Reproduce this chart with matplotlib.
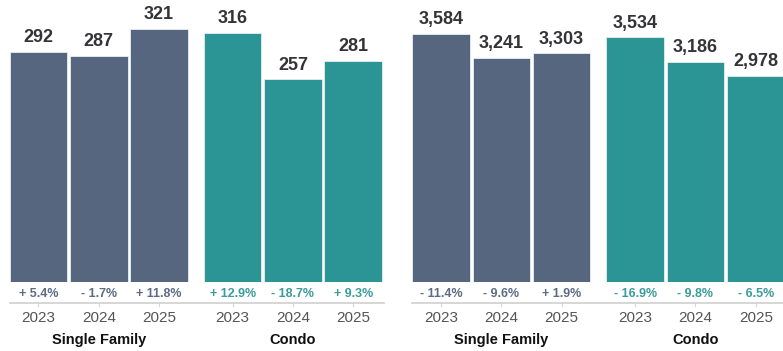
import matplotlib
matplotlib.use('Agg')
import matplotlib.pyplot as plt
from matplotlib import transforms

plt.rcParams['font.family'] = ['Liberation Sans', 'DejaVu Sans']

years = ['2023', '2024', '2025']
groups = ['Single Family', 'Condo']

# left panel
left_sf = [292, 287, 321]
left_condo = [316, 257, 281]
left_sf_chg = ['+ 5.4%', '- 1.7%', '+ 11.8%']
left_condo_chg = ['+ 12.9%', '- 18.7%', '+ 9.3%']

# right panel
right_sf = [3584, 3241, 3303]
right_condo = [3534, 3186, 2978]
right_sf_chg = ['- 11.4%', '- 9.6%', '+ 1.9%']
right_condo_chg = ['- 16.9%', '- 9.8%', '- 6.5%']

slate = '#56667f'
teal = '#2b9595'
slate_txt = '#5d6c84'
teal_txt = '#3a9c9a'

W, H = 783, 351
fig = plt.figure(figsize=(W / 100, H / 100), dpi=100)
fig.patch.set_facecolor('white')

pitch = 60.3
gap = 1.22
xs = [0, 1, 2, 2 + gap, 3 + gap, 4 + gap]
base_px = 282


def panel(x0, x1, first_center, ymax, sf, condo, sf_chg, condo_chg, fmt, line_x):
    ax = fig.add_axes([x0 / W, (H - base_px) / H, (x1 - x0) / W, base_px / H])
    vals = sf + condo
    ax.set_ylim(0, ymax)
    ax.set_xlim(-first_center / pitch, (x1 - x0 - first_center) / pitch)
    cols = [slate] * 3 + [teal] * 3
    ax.bar(xs, vals, width=0.955, color=cols, edgecolor='#e8eef0', linewidth=0.6)
    for x, v in zip(xs, vals):
        ax.annotate(fmt(v), (x, v), xytext=(0, 4), textcoords='offset points',
                    ha='center', va='bottom', fontsize=13, fontweight='bold', color='#333338')
    blend = transforms.blended_transform_factory(ax.transData, fig.transFigure)
    chg = sf_chg + condo_chg
    tcols = [slate_txt] * 3 + [teal_txt] * 3
    for x, c, tc, yr in zip(xs, chg, tcols, years * 2):
        ax.text(x, 1 - 294 / H, c, transform=blend, ha='center', va='center',
                fontsize=9, fontweight='bold', color=tc)
        ax.text(x, 1 - 318 / H, yr, transform=blend, ha='center', va='center',
                fontsize=11, color='#555555')
        ax.plot([x, x], [1 - 303 / H, 1 - 306 / H], transform=blend, color='#d8d8d8',
                lw=0.8, clip_on=False)
    for gx, g in zip([xs[1], xs[4]], groups):
        ax.text(gx, 1 - 340 / H, g, transform=blend, ha='center', va='center',
                fontsize=10.5, fontweight='bold', color='#111111')
    lx0 = (line_x[0] - x0 - first_center) / pitch
    lx1 = (line_x[1] - x0 - first_center) / pitch
    ax.plot([lx0, lx1], [1 - 303 / H] * 2, transform=blend, color='#d0d0d0', lw=1.2,
            clip_on=False)
    ax.axis('off')
    return ax


panel(0, 392, 38.5, 357.8, left_sf, left_condo, left_sf_chg, left_condo_chg,
      lambda v: f'{v}', (10, 384))
panel(392, 783, 49, 4075, right_sf, right_condo, right_sf_chg, right_condo_chg,
      lambda v: f'{v:,}', (412, 783))

fig.savefig('out.png', dpi=100)
